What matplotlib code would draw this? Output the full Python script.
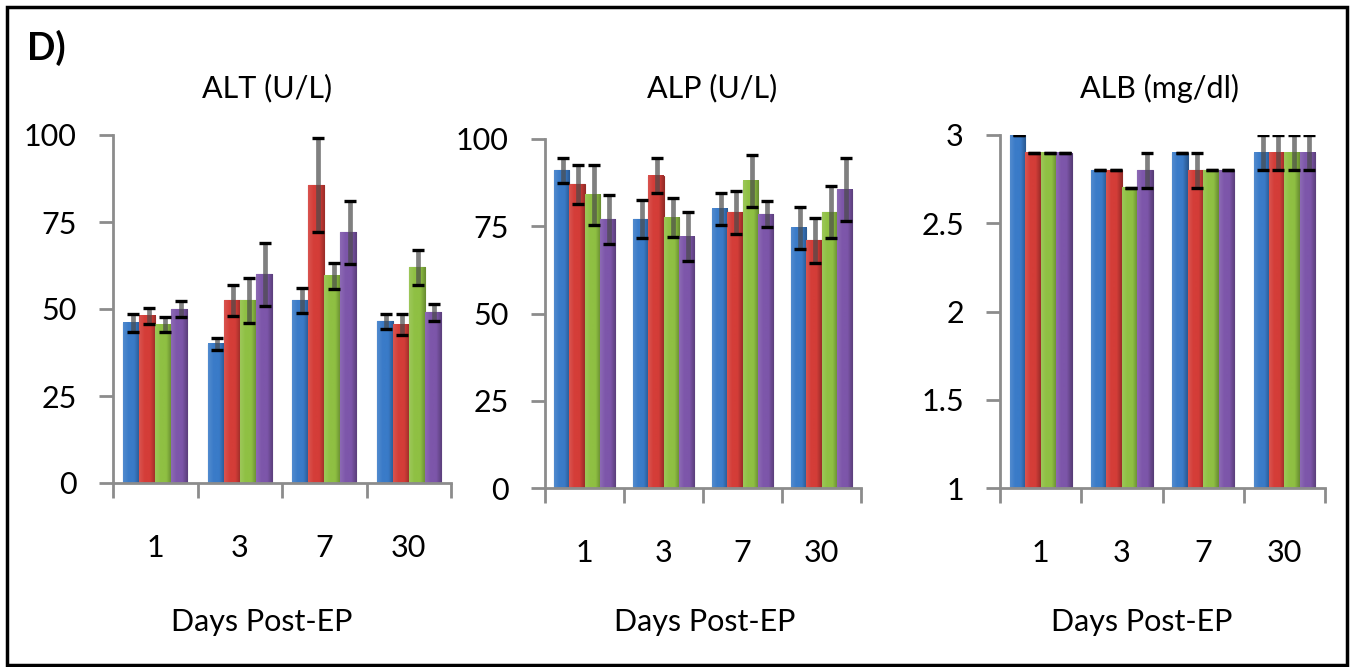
import matplotlib
matplotlib.use("Agg")
import matplotlib.pyplot as plt
import matplotlib.colors as colors
from matplotlib.patches import Rectangle
import numpy as np

plt.rcParams["font.family"] = ["Lato", "DejaVu Sans"]

W, H = 1355, 667

days = ["1", "3", "7", "30"]

# ALT (U/L): one list per group (blue, red, green, purple), values per day
alt_means = [
    [46, 40, 52.5, 46.5],
    [48, 52.5, 85.5, 45.5],
    [45.5, 52.5, 59.5, 62],
    [50, 60, 72, 49],
]
alt_errs = [
    [2.5, 1.7, 3.6, 2.2],
    [2.2, 4.5, 13.5, 3],
    [2.2, 6.5, 3.7, 5],
    [2.2, 9, 9, 2.5],
]

# ALP (U/L)
alp_means = [
    [91, 77, 80, 74.5],
    [87, 89.5, 79, 71],
    [84, 77.5, 88, 79],
    [77, 72, 78.5, 85.5],
]
alp_errs = [
    [3.5, 5.5, 4.5, 6],
    [5.5, 5, 6.2, 6.5],
    [8.5, 5.6, 7.5, 7.5],
    [7, 7, 3.8, 9],
]

# ALB (mg/dl)
alb_means = [
    [3.0, 2.8, 2.9, 2.9],
    [2.9, 2.8, 2.8, 2.9],
    [2.9, 2.7, 2.8, 2.9],
    [2.9, 2.8, 2.8, 2.9],
]
alb_errs = [
    [0, 0, 0, 0.1],
    [0, 0, 0.1, 0.1],
    [0, 0, 0, 0.1],
    [0, 0.1, 0, 0.1],
]

bar_colors = ["#3A7BC8", "#D43D38", "#8FC043", "#7D56AA"]
axis_grey = "#8C8C8C"


def shade(c, f):
    r, g, b = colors.to_rgb(c)
    if f >= 1:
        return (r + (1 - r) * (f - 1), g + (1 - g) * (f - 1), b + (1 - b) * (f - 1))
    return (r * f, g * f, b * f)


def px_axes(left, right, top, bottom):
    return fig.add_axes([left / W, 1 - bottom / H, (right - left) / W, (bottom - top) / H])


def draw_panel(ax, means, errs, ylim, yticks, ylabels):
    x = np.arange(len(days))
    bw = 0.19
    for k, (m, e, c) in enumerate(zip(means, errs, bar_colors)):
        xs = x + (k - 1.5) * bw
        bars = ax.bar(xs, m, width=bw, color=c, edgecolor=shade(c, 0.7),
                      linewidth=0.8, zorder=2)
        cmap = colors.LinearSegmentedColormap.from_list(
            "g", [shade(c, 1.12), c, c, shade(c, 0.72)])
        grad = np.linspace(0, 1, 64).reshape(1, -1)
        for b in bars:
            x0, w, h = b.get_x(), b.get_width(), b.get_height()
            ax.imshow(grad, cmap=cmap, extent=[x0, x0 + w, 0, h],
                      aspect="auto", zorder=2.1, interpolation="bicubic")
        # grey error line, black caps
        ax.errorbar(xs + bw * 0.1, m, yerr=e, fmt="none", ecolor="#4A4A4A",
                    elinewidth=3.4, alpha=0.7, capsize=0, zorder=3)
        ax.errorbar(xs + bw * 0.1, m, yerr=e, fmt="none", ecolor="black",
                    elinewidth=0, capsize=4, capthick=2.4, zorder=4)
    ax.set_xlim(-0.5, len(days) - 0.5)
    ax.set_ylim(*ylim)
    ax.set_yticks(yticks, ylabels)
    ax.set_xticks(x, days)
    ax.set_xticks(np.arange(len(days) + 1) - 0.5, minor=True)
    for s in ["top", "right"]:
        ax.spines[s].set_visible(False)
    for s in ["left", "bottom"]:
        ax.spines[s].set_color(axis_grey)
        ax.spines[s].set_linewidth(2)
    ax.tick_params(axis="y", length=10, width=2, color=axis_grey, pad=16,
                   labelsize=22)
    ax.tick_params(axis="x", which="major", length=0, pad=37, labelsize=22)
    ax.tick_params(axis="x", which="minor", length=11, width=2,
                   color=axis_grey)


fig = plt.figure(figsize=(W / 100, H / 100), dpi=100)

ax1 = px_axes(113, 451, 135, 483)
draw_panel(ax1, alt_means, alt_errs, (0, 100), [0, 25, 50, 75, 100],
           ["0", "25", "50", "75", "100"])
ax2 = px_axes(545, 861, 139, 488)
draw_panel(ax2, alp_means, alp_errs, (0, 100), [0, 25, 50, 75, 100],
           ["0", "25", "50", "75", "100"])
ax3 = px_axes(1000, 1325, 135, 488)
draw_panel(ax3, alb_means, alb_errs, (1, 3), [1, 1.5, 2, 2.5, 3],
           ["1", "1.5", "2", "2.5", "3"])

titles = ["ALT (U/L)", "ALP (U/L)", "ALB (mg/dl)"]
title_x = [267, 712, 1160]
xlabel_x = [262, 705, 1142]
for t, tx, lx in zip(titles, title_x, xlabel_x):
    fig.text(tx / W, 1 - 88 / H, t, ha="center", va="center", fontsize=22)
    fig.text(lx / W, 1 - 622 / H, "Days Post-EP", ha="center", va="center",
             fontsize=22)

fig.text(27 / W, 1 - 48 / H, "D)", ha="left", va="center", fontsize=27,
         fontweight="bold")

fig.patches.append(Rectangle((7 / W, 2 / H), 1340 / W, 658 / H,
                             transform=fig.transFigure, fill=False,
                             edgecolor="black", linewidth=2.5))

fig.savefig("out.png", dpi=100)
